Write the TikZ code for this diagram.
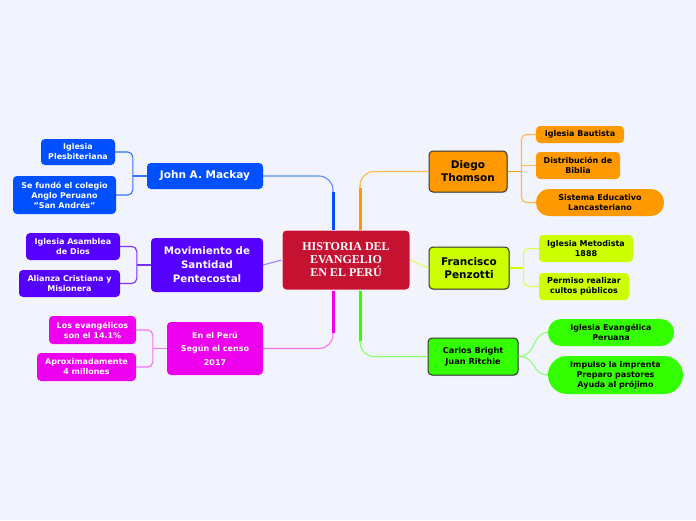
\documentclass[tikz,border=0pt]{standalone}
\usepackage{fontspec}
\setmainfont{DejaVu Sans}
\newfontfamily\serifb{Liberation Serif}
\usetikzlibrary{shadows}
\definecolor{bgc}{HTML}{F2F4FD}
\definecolor{crim}{HTML}{C41230}
\definecolor{orng}{HTML}{FF9900}
\definecolor{limec}{HTML}{CCFF00}
\definecolor{grn}{HTML}{33FF00}
\definecolor{blu}{HTML}{0050FF}
\definecolor{purp}{HTML}{5500FF}
\definecolor{mag}{HTML}{EE00EE}
\definecolor{bluL}{HTML}{5C8CFF}
\definecolor{orngL}{HTML}{FFB84D}
\definecolor{limeL}{HTML}{DDFF55}
\definecolor{grnL}{HTML}{88FF66}
\definecolor{purpL}{HTML}{A080FF}
\definecolor{magL}{HTML}{F570F5}
\tikzset{
  box/.style={rounded corners=4pt, align=center, inner sep=1pt, font=\bfseries},
  leaf/.style={box, font=\fontsize{8}{10}\selectfont\bfseries},
  pill/.style={leaf, rounded corners=13pt},
  darkbox/.style={box, draw=black!80, line width=1pt, drop shadow={opacity=0.25, shadow xshift=1pt, shadow yshift=-1pt}},
  conn/.style={line width=1.1pt, rounded corners=5pt},
}
\begin{document}
\begin{tikzpicture}[x=1pt,y=-1pt]
\fill[bgc] (0,0) rectangle (696,520);
\useasboundingbox (0,0) rectangle (696,520);

% center
\node[box, fill=crim, draw=white, line width=1pt, text=white, minimum width=128pt, minimum height=60pt,
  font=\serifb\fontsize{12}{13}\selectfont\bfseries] (c) at (346,260) {HISTORIA DEL\\EVANGELIO\\EN EL PERÚ};

% main branches
\node[darkbox, fill=orng, minimum width=78pt, minimum height=41pt, font=\fontsize{10.5}{13}\selectfont\bfseries] (diego) at (468,171.5) {Diego\\Thomson};
\node[darkbox, fill=limec, minimum width=80pt, minimum height=42pt, font=\fontsize{10.5}{13}\selectfont\bfseries] (penz) at (469,268) {Francisco\\Penzotti};
\node[darkbox, fill=grn, minimum width=90pt, minimum height=37pt, font=\fontsize{8.2}{11}\selectfont\bfseries] (carlos) at (473,356.5) {Carlos Bright\\Juan Ritchie};
\node[box, fill=blu, text=white, minimum width=116pt, minimum height=26pt, font=\fontsize{10.5}{13}\selectfont\bfseries] (mackay) at (205,176) {John A. Mackay};
\node[box, fill=purp, text=white, minimum width=112pt, minimum height=54pt, font=\fontsize{10.3}{14}\selectfont\bfseries] (mov) at (207,265) {Movimiento de\\Santidad\\Pentecostal};
\node[box, fill=mag, text=white, minimum width=96pt, minimum height=53pt, font=\fontsize{8}{13.5}\selectfont\bfseries] (peru) at (215,348.5) {En el Perú\\Según el censo\\2017};

% leaves left
\node[leaf, fill=blu, text=white, minimum width=74pt, minimum height=26pt] (ip) at (78,152) {Iglesia\\Plesbiteriana};
\node[leaf, fill=blu, text=white, minimum width=103pt, minimum height=38pt] (sf) at (64.5,195) {Se fundó el colegio\\Anglo Peruano\\ "San Andrés"};
\node[leaf, fill=purp, text=white, minimum width=94pt, minimum height=27pt] (iad) at (73,246.5) {Iglesia Asamblea\\de Dios};
\node[leaf, fill=purp, text=white, minimum width=101pt, minimum height=27pt] (acm) at (69.5,283.5) {Alianza Cristiana y\\Misionera};
\node[leaf, fill=mag, text=white, minimum width=87pt, minimum height=28pt] (le) at (92.5,330) {Los evangélicos\\son el 14.1\%};
\node[leaf, fill=mag, text=white, minimum width=99pt, minimum height=28pt] (ap) at (86.5,367) {Aproximadamente\\4 millones};

% leaves right
\node[leaf, fill=orng, minimum width=88pt, minimum height=17pt] (ib) at (580,134.5) {Iglesia Bautista};
\node[leaf, fill=orng, minimum width=84pt, minimum height=27pt] (db) at (578,165.5) {Distribución de\\Biblia};
\node[pill, fill=orng, minimum width=128pt, minimum height=27pt] (se) at (600,202.5) {Sistema Educativo\\Lancasteriano};
\node[leaf, fill=limec, minimum width=94pt, minimum height=27pt] (im) at (586,248.5) {Iglesia Metodista\\1888};
\node[leaf, fill=limec, minimum width=90pt, minimum height=27pt] (pr) at (584,286.5) {Permiso realizar\\cultos públicos};
\node[pill, fill=grn, minimum width=126pt, minimum height=27pt] (iep) at (611,332.5) {Iglesia Evangélica\\Peruana};
\node[pill, fill=grn, minimum width=135pt, minimum height=38pt, rounded corners=19pt] (imp) at (615.5,375) {Impulso la imprenta\\Preparo pastores\\Ayuda al prójimo};

% main connectors
\draw[bluL, line width=1.1pt, rounded corners=14pt] (mackay.east) -| ([xshift=-13pt]c.north);
\draw[blu, line width=3pt, shorten >=16pt] ([xshift=-13pt]c.north) -- ([xshift=-13pt]c.north |- mackay.east);
\draw[orngL, line width=1.1pt, rounded corners=14pt] (diego.west) -| ([xshift=14pt]c.north);
\draw[orng, line width=3pt, shorten >=16pt] ([xshift=14pt]c.north) -- ([xshift=14pt]c.north |- diego.west);
\draw[magL, line width=1.1pt, rounded corners=14pt] (peru.east) -| ([xshift=-13pt]c.south);
\draw[mag, line width=3pt, shorten >=16pt] ([xshift=-13pt]c.south) -- ([xshift=-13pt]c.south |- peru.east);
\draw[grnL, line width=1.1pt, rounded corners=14pt] (carlos.west) -| ([xshift=14pt]c.south);
\draw[grn, line width=3pt, shorten >=16pt] ([xshift=14pt]c.south) -- ([xshift=14pt]c.south |- carlos.west);
\draw[purpL, line width=1.1pt] (c.west) -- (mov.east);
\draw[limeL, line width=1.1pt] (c.east) -- (penz.west);

% leaf connectors
\coordinate (bm) at ([xshift=-14pt]mackay.west);
\draw[blu!80, conn] (mackay.west) -- (bm);
\draw[blu!80, conn] (ip.east) -| (bm) |- (sf.east);
\coordinate (bv) at ([xshift=-14pt]mov.west);
\draw[purp!80, conn] (mov.west) -- (bv);
\draw[purp!80, conn] (iad.east) -| (bv) |- (acm.east);
\coordinate (bp) at ([xshift=-14pt]peru.west);
\draw[magL, conn] (peru.west) -- (bp);
\draw[magL, conn] (le.east) -| (bp) |- (ap.east);
\coordinate (bd) at ([xshift=14pt]diego.east);
\draw[orng, conn] (diego.east) -- (bd);
\draw[orngL, conn] (ib.west) -| (bd) |- (se.west);
\draw[orngL, conn] (bd |- db.west) -- (db.west);
\coordinate (bz) at ([xshift=14pt]penz.east);
\draw[limec, conn] (penz.east) -- (bz);
\draw[limeL, conn] (im.west) -| (bz) |- (pr.west);
\draw[grnL, line width=1pt] (carlos.east) .. controls +(18,0) and +(-16,0) .. (iep.west);
\draw[grnL, line width=1pt] (carlos.east) .. controls +(18,0) and +(-16,0) .. (imp.west);
\end{tikzpicture}
\end{document}
